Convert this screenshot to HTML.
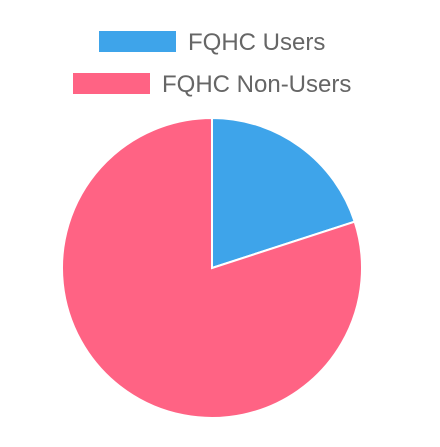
<!DOCTYPE html>
<html><head><meta charset="utf-8"><style>
body{margin:0;background:#fff;width:440px;height:442px;overflow:hidden;font-family:"Liberation Sans",Arial,sans-serif}
</style></head><body>
<svg width="440" height="442">
<g id="legend"></g>
<g id="slices"></g>
</svg>
<script>
const categories=["FQHC Users","FQHC Non-Users"];
const values=[20,80];
const colors=["#3ea4ea","#ff6384"];
const legendPos=[{bx:99,by:31,tx:188},{bx:73,by:73,tx:162}];
const ns="http://www.w3.org/2000/svg";
const lg=document.getElementById('legend'),sg=document.getElementById('slices');
categories.forEach((c,i)=>{
  const r=document.createElementNS(ns,'rect');
  r.setAttribute('x',legendPos[i].bx);r.setAttribute('y',legendPos[i].by);
  r.setAttribute('width',77);r.setAttribute('height',21);r.setAttribute('fill',colors[i]);
  
  
  lg.appendChild(r);
  const t=document.createElementNS(ns,'text');
  t.setAttribute('x',legendPos[i].tx);t.setAttribute('y',legendPos[i].by+19);
  t.setAttribute('font-size','24');t.setAttribute('fill','#666');
  t.textContent=c;
  
  
  lg.appendChild(t);
});
const cx=212,cy=268,R=150;
const total=values.reduce((a,b)=>a+b,0);
let a0=-Math.PI/2;
values.forEach((v,i)=>{
  const a1=a0+v/total*2*Math.PI;
  const large=(a1-a0)>Math.PI?1:0;
  const p=document.createElementNS(ns,'path');
  const x0=cx+R*Math.cos(a0),y0=cy+R*Math.sin(a0),x1=cx+R*Math.cos(a1),y1=cy+R*Math.sin(a1);
  p.setAttribute('d',`M${cx},${cy}L${x0},${y0}A${R},${R} 0 ${large} 1 ${x1},${y1}Z`);
  p.setAttribute('fill',colors[i]);p.setAttribute('stroke','#fff');p.setAttribute('stroke-width','2');
  
  
  sg.appendChild(p);
  a0=a1;
});
</script>
</body></html>
